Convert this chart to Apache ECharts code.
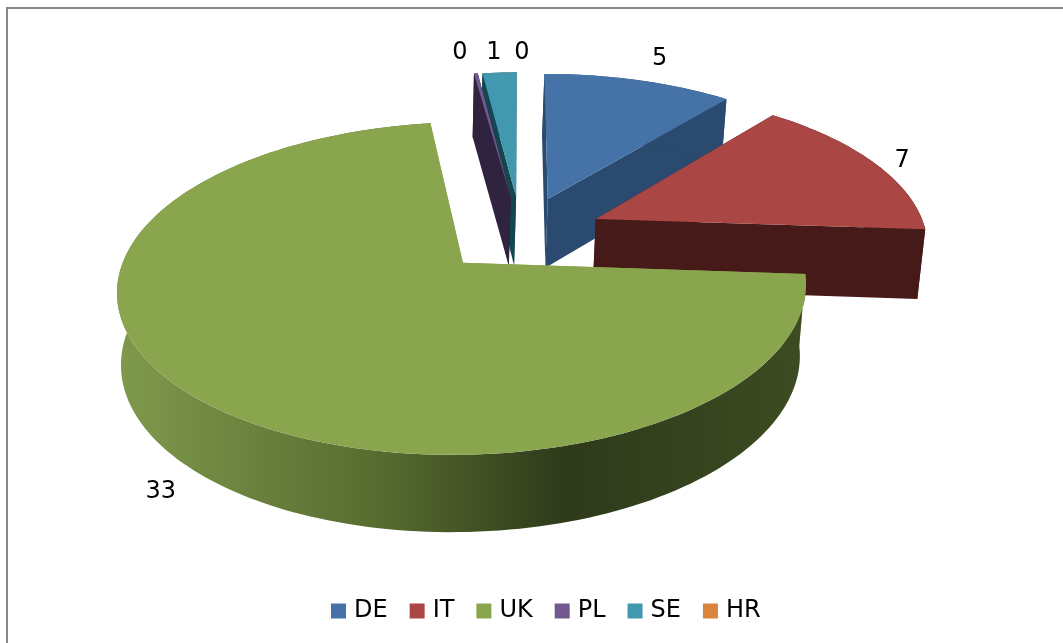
<!DOCTYPE html>
<html>
<head>
<meta charset="utf-8">
<style>html,body{margin:0;padding:0;background:#fff}#c{width:1063px;height:643px}</style>
<script src="https://cdn.jsdelivr.net/npm/echarts@6/dist/echarts.min.js"></script>
</head>
<body>
<div id="c"></div>
<script>
const categories = ['DE', 'IT', 'UK', 'PL', 'SE', 'HR'];
const values = [5, 7, 33, 0.1, 0.9, 0];
const topColors = ['#4572a7', '#aa4643', '#89a54e', '#71588f', '#4198af', '#db843d'];
const sideColors = ['#2a4a70', '#451a18', '#89a54e', '#30233f', '#15454f', '#83501f'];

// projection of the tilted, exploded disc
const view = {cx: 521, cy: 234, rx: 331, ry: 153.6, persp: 0.15, depth: 70, depthP: 0.08, taper: 0.0148, vanishX: 387, explode: 0.25, start: 0};
const paintOrder = {DE: 1, IT: 2, UK: 6, PL: 4, SE: 3, HR: 5};
const labelNudge = {DE: [21, -21], IT: [28, -2], UK: [-33, 95]};
const labelFixedY = {PL: [-61, -20], SE: [-27, -20], HR: [1, -20]};

const total = values.reduce((a, b) => a + b, 0);
function project(X, Y, Z) {
  const w = 1 + view.persp * Y;
  const h = view.depth / (1 + view.depthP * Y);
  const x = view.cx + view.rx * X / w;
  return [x - (x - view.vanishX) * view.taper * Z, view.cy - view.ry * Y / w + h * Z];
}
const rad = d => d * Math.PI / 180;
function sliceAngles(i) {
  let before = 0;
  for (let k = 0; k < i; k++) before += values[k];
  const a0 = view.start + before / total * 360;
  return [a0, a0 + values[i] / total * 360];
}
function renderSlice(params, api) {
  const i = params.seriesIndex;
  const name = categories[i];
  const v = api.value(0);
  const [a0, a1] = sliceAngles(i);
  const mid = rad((a0 + a1) / 2);
  const ox = view.explode * Math.sin(mid), oy = view.explode * Math.cos(mid);
  const pt = (a, r, z) => project(ox + r * Math.sin(rad(a)), oy + r * Math.cos(rad(a)), z);
  const children = [];
  if (v > 0) {
    const steps = Math.max(2, Math.ceil((a1 - a0) / 1.5));
    const arc = z => { const o = []; for (let s = 0; s <= steps; s++) o.push(pt(a0 + (a1 - a0) * s / steps, 1, z)); return o; };
    const topPts = arc(0), botPts = arc(1);
    const rimFill = name === 'UK' ? {
      type: 'linear', x: 0, y: 0, x2: 1, y2: 0,
      colorStops: [
        {offset: 0, color: '#7f9a4c'}, {offset: 0.39, color: '#566a2f'},
        {offset: 0.65, color: '#2e3a1a'}, {offset: 1, color: '#3d4c22'}
      ]
    } : sideColors[i];
    const poly = (points, fill) => ({type: 'polygon', shape: {points}, style: {fill}});
    // cut faces first, then rim, then the top
    children.push(poly([pt(a0, 0, 0), pt(a0, 1, 0), pt(a0, 1, 1), pt(a0, 0, 1)], sideColors[i]));
    children.push(poly([pt(a1, 0, 0), pt(a1, 1, 0), pt(a1, 1, 1), pt(a1, 0, 1)], sideColors[i]));
    children.push(poly(topPts.concat(botPts.slice().reverse()), rimFill));
    children.push(poly([pt(a0, 0, 0)].concat(topPts), topColors[i]));
  }
  const base = labelFixedY[name] ? project(0, 1.25, 0) : pt((a0 + a1) / 2, 1, 0);
  const nudge = labelFixedY[name] || labelNudge[name];
  children.push({
    type: 'text',
    z2: 100,
    style: {
      x: base[0] + nudge[0], y: base[1] + nudge[1],
      text: String(Math.round(v)),
      fill: '#000', font: '24px "DejaVu Sans"', align: 'center', verticalAlign: 'middle'
    }
  });
  return {type: 'group', children};
}

const chart = echarts.init(document.getElementById('c'), null, {renderer: 'canvas'});
chart.setOption({
  animation: false,
  backgroundColor: '#fff',
  legend: {
    data: categories,
    left: 326, top: 594,
    icon: 'rect', itemWidth: 15, itemHeight: 15, itemGap: 22,
    selectedMode: false,
    textStyle: {fontFamily: 'DejaVu Sans', fontSize: 24, color: '#000', padding: [0, 0, 0, 3]}
  },
  graphic: [
    {type: 'line', shape: {x1: 6, y1: 8, x2: 1063, y2: 8}, style: {stroke: '#868686', lineWidth: 2}},
    {type: 'line', shape: {x1: 7, y1: 8, x2: 7, y2: 643}, style: {stroke: '#868686', lineWidth: 2}}
  ],
  series: categories.map((name, i) => ({
    type: 'custom',
    name,
    coordinateSystem: 'none',
    z: paintOrder[name],
    itemStyle: {color: topColors[i]},
    renderItem: renderSlice,
    data: [[values[i]]],
    silent: true
  }))
});
</script>
</body>
</html>
